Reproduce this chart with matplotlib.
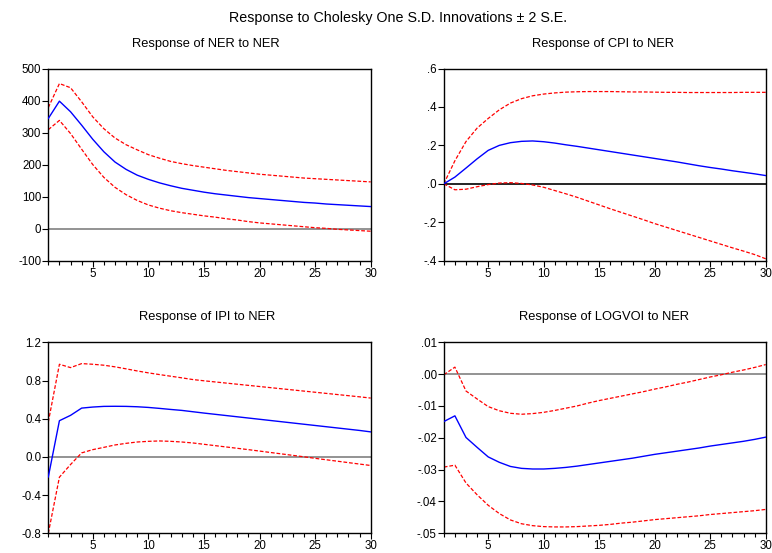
import matplotlib
matplotlib.use("Agg")
import matplotlib.pyplot as plt
import numpy as np

plt.rcParams['font.family'] = ['Liberation Sans', 'DejaVu Sans']

periods = list(range(1, 31))

ner_resp = [344, 398, 365, 323, 279, 240, 208, 185, 167, 154, 143, 134, 126, 120, 114,
            109, 105, 101, 97, 94, 91, 88, 85, 82, 80, 77, 75, 73, 71, 69]
ner_up = [378, 453, 440, 396, 349, 312, 283, 262, 246, 231, 220, 210, 203, 197, 192,
          187, 182, 178, 174, 170, 167, 164, 161, 158, 156, 154, 152, 150, 148, 146]
ner_lo = [309, 338, 297, 248, 200, 160, 129, 106, 88, 74, 64, 56, 50, 45, 40,
          36, 31, 27, 22, 18, 15, 12, 9, 6, 3, 1, -2, -4, -6, -8]

cpi_resp = [0.0, 0.035, 0.082, 0.13, 0.174, 0.200, 0.214, 0.221, 0.223, 0.219, 0.212, 0.203,
            0.195, 0.186, 0.177, 0.168, 0.159, 0.150, 0.141, 0.132, 0.123, 0.114, 0.104, 0.094,
            0.085, 0.077, 0.068, 0.060, 0.052, 0.043]
cpi_up = [0.0, 0.12, 0.22, 0.29, 0.34, 0.385, 0.42, 0.443, 0.458, 0.467, 0.473, 0.477,
          0.479, 0.480, 0.480, 0.480, 0.479, 0.478, 0.478, 0.477, 0.476, 0.476, 0.475, 0.475,
          0.475, 0.475, 0.475, 0.476, 0.476, 0.476]
cpi_lo = [0.0, -0.031, -0.028, -0.015, -0.004, 0.004, 0.006, 0.002, -0.006, -0.018, -0.035,
          -0.052, -0.07, -0.09, -0.11, -0.13, -0.149, -0.168, -0.187, -0.207, -0.225, -0.243,
          -0.261, -0.279, -0.297, -0.315, -0.333, -0.35, -0.368, -0.39]

ipi_resp = [-0.21, 0.379, 0.435, 0.511, 0.522, 0.529, 0.530, 0.529, 0.525, 0.518, 0.508, 0.497,
            0.487, 0.473, 0.459, 0.446, 0.433, 0.420, 0.407, 0.394, 0.381, 0.368, 0.355, 0.342,
            0.329, 0.316, 0.303, 0.290, 0.277, 0.262]
ipi_up = [0.365, 0.97, 0.935, 0.977, 0.97, 0.96, 0.943, 0.922, 0.90, 0.88, 0.862, 0.845,
          0.828, 0.81, 0.797, 0.785, 0.773, 0.761, 0.749, 0.737, 0.725, 0.713, 0.701, 0.689,
          0.677, 0.665, 0.653, 0.641, 0.629, 0.616]
ipi_lo = [-0.8, -0.212, -0.08, 0.042, 0.076, 0.10, 0.125, 0.142, 0.156, 0.163, 0.167, 0.163,
          0.156, 0.146, 0.132, 0.118, 0.104, 0.090, 0.076, 0.061, 0.046, 0.031, 0.016, 0.001,
          -0.015, -0.030, -0.045, -0.060, -0.075, -0.090]

voi_resp = [-0.0149, -0.0131, -0.0199, -0.0230, -0.0260, -0.0277, -0.0290, -0.0296, -0.0298,
            -0.0298, -0.0296, -0.0293, -0.0289, -0.0284, -0.0279, -0.0274, -0.0269, -0.0264,
            -0.0258, -0.0252, -0.0247, -0.0242, -0.0237, -0.0232, -0.0226, -0.0221, -0.0216,
            -0.0211, -0.0205, -0.0198]
voi_up = [-0.0002, 0.0022, -0.0053, -0.0078, -0.0102, -0.0115, -0.0123, -0.0126, -0.0124,
          -0.0120, -0.0114, -0.0107, -0.0100, -0.0091, -0.0083, -0.0076, -0.0069, -0.0062,
          -0.0055, -0.0047, -0.0040, -0.0032, -0.0025, -0.0017, -0.0009, -0.0002, 0.0006,
          0.0013, 0.0021, 0.0030]
voi_lo = [-0.0292, -0.0286, -0.0342, -0.0379, -0.0412, -0.0438, -0.0458, -0.0470, -0.0476,
          -0.0479, -0.0480, -0.0480, -0.0479, -0.0477, -0.0475, -0.0472, -0.0468, -0.0465,
          -0.0461, -0.0457, -0.0454, -0.0451, -0.0448, -0.0445, -0.0441, -0.0438, -0.0435,
          -0.0432, -0.0429, -0.0425]

panels = [
    ("Response of NER to NER", ner_resp, ner_up, ner_lo, (-100, 500),
     [-100, 0, 100, 200, 300, 400, 500], ["-100", "0", "100", "200", "300", "400", "500"], "#808080"),
    ("Response of CPI to NER", cpi_resp, cpi_up, cpi_lo, (-0.4, 0.6),
     [-0.4, -0.2, 0.0, 0.2, 0.4, 0.6], ["-.4", "-.2", ".0", ".2", ".4", ".6"], "black"),
    ("Response of IPI to NER", ipi_resp, ipi_up, ipi_lo, (-0.8, 1.2),
     [-0.8, -0.4, 0.0, 0.4, 0.8, 1.2], ["-0.8", "-0.4", "0.0", "0.4", "0.8", "1.2"], "#808080"),
    ("Response of LOGVOI to NER", voi_resp, voi_up, voi_lo, (-0.05, 0.01),
     [-0.05, -0.04, -0.03, -0.02, -0.01, 0.0, 0.01],
     ["-.05", "-.04", "-.03", "-.02", "-.01", ".00", ".01"], "#808080"),
]

W, H = 772, 553
fig = plt.figure(figsize=(W / 100, H / 100), dpi=100)
fig.patch.set_facecolor("white")

# axes boxes in pixels: (left, top, right, bottom)
boxes = [(48.3, 68.5, 370.7, 260.7), (443.8, 68.5, 765.7, 260.7),
         (48.3, 342.3, 370.7, 533.3), (443.8, 342.3, 765.7, 533.3)]
title_pos = [(206, 44), (603, 44), (207, 317), (604, 317)]

for (title, resp, up, lo, ylim, yt, ytl, zc), (l, t, r, b), (tx, ty) in zip(panels, boxes, title_pos):
    ax = fig.add_axes([l / W, 1 - b / H, (r - l) / W, (b - t) / H])
    ax.axhline(0, color=zc, lw=1.2, zorder=1)
    ax.plot(periods, resp, color="#0000ff", lw=1.0, zorder=3)
    ax.plot(periods, up, color="#ff0000", lw=0.9, ls=(0, (3, 1.5)), zorder=2)
    ax.plot(periods, lo, color="#ff0000", lw=0.9, ls=(0, (3, 1.5)), zorder=2)
    ax.set_xlim(1, 30)
    ax.set_ylim(*ylim)
    ax.set_yticks(yt)
    ax.set_yticklabels(ytl)
    ax.set_xticks([5, 10, 15, 20, 25, 30])
    ax.set_xticks(list(range(1, 31)), minor=True)
    ax.tick_params(axis="both", which="major", direction="out", length=4, width=0.8,
                   labelsize=8.3, colors="black", pad=1.0)
    ax.tick_params(axis="x", which="minor", direction="out", length=3, width=0.8)
    ax.tick_params(axis="y", which="minor", left=False)
    for s in ax.spines.values():
        s.set_linewidth(1.0)
        s.set_color("black")
    fig.text(tx / W, 1 - ty / H, title, ha="center", va="center", fontsize=9.3)

fig.text(398 / W, 1 - 18 / H, "Response to Cholesky One S.D. Innovations \u00b1 2 S.E.",
         ha="center", va="center", fontsize=10.3)

fig.savefig("out.png", dpi=100)
